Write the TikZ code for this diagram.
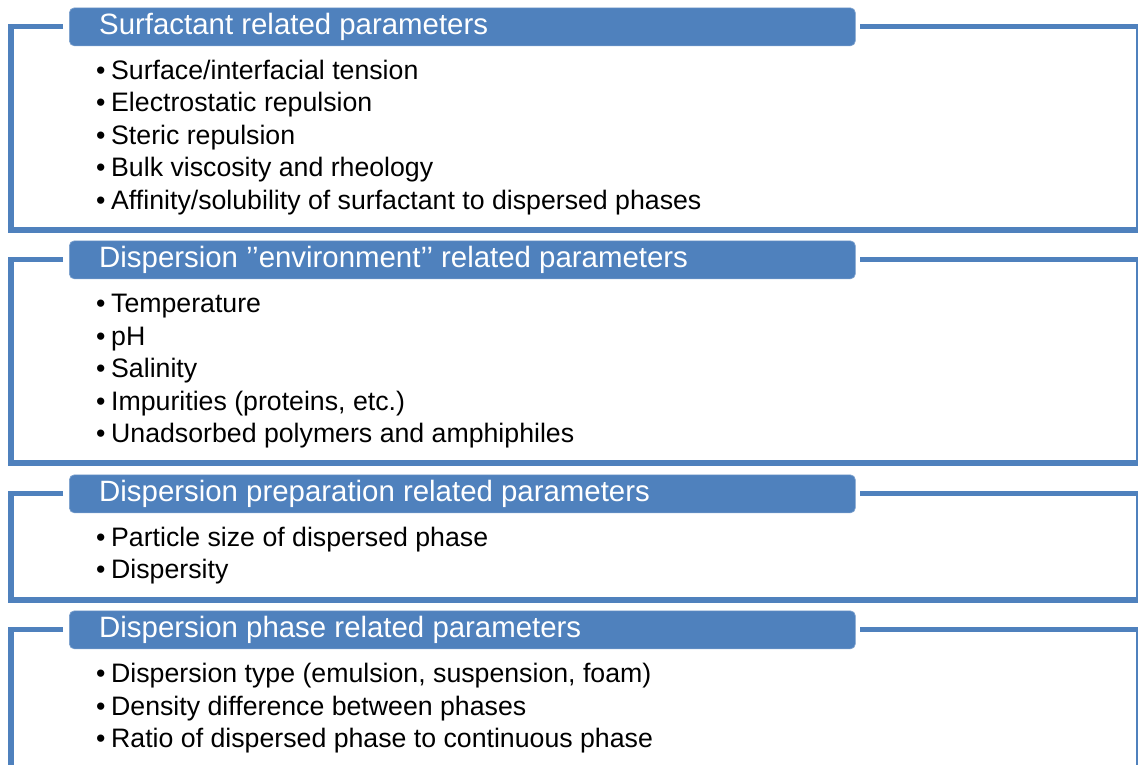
\documentclass[tikz,border=0pt]{standalone}
\usepackage{fontspec}
\setmainfont{Liberation Sans}
\definecolor{accent}{HTML}{4F81BD}
\begin{document}
\begin{tikzpicture}[x=1pt,y=-1pt,
 frame/.style={draw=accent,line width=5.5pt,line join=miter},
 bar/.style={fill=accent,draw=accent!75!white,line width=0.7pt,rounded corners=5pt,minimum width=786pt,minimum height=38pt,inner sep=0pt,anchor=north west},
 titletext/.style={text=white,font=\fontsize{29.4}{34}\selectfont,anchor=base west,inner sep=0pt},
 item/.style={font=\fontsize{26.7}{31}\selectfont,anchor=base west,inner sep=0pt}]
\useasboundingbox (0,0) rectangle (1138,764);
\newcommand{\bul}[1]{\makebox[15pt][l]{•}#1}
% Section 1
\draw[frame] (63,26.5) -- (11,26.5) -- (11,230) -- (1139,230) -- (1139,26.5) -- (860,26.5);
\node[bar] (bar1) at (69,7.5) {};
\node[titletext] (t1) at (99,34) {Surfactant related parameters};
\node[item] (i11) at (96,79) {\bul{Surface/interfacial tension}};
\node[item] (i12) at (96,111.5) {\bul{Electrostatic repulsion}};
\node[item] (i13) at (96,144) {\bul{Steric repulsion}};
\node[item] (i14) at (96,176.5) {\bul{Bulk viscosity and rheology}};
\node[item] (i15) at (96,209) {\bul{Affinity/solubility of surfactant to dispersed phases}};
% Section 2
\draw[frame] (63,259.5) -- (11,259.5) -- (11,463) -- (1139,463) -- (1139,259.5) -- (860,259.5);
\node[bar] (bar2) at (69,240.5) {};
\node[titletext] (t2) at (99,267) {Dispersion ’’environment’’ related parameters};
\node[item] (i21) at (96,312.5) {\bul{Temperature}};
\node[item] (i22) at (96,345) {\bul{pH}};
\node[item] (i23) at (96,377.5) {\bul{Salinity}};
\node[item] (i24) at (96,410) {\bul{Impurities (proteins, etc.)}};
\node[item] (i25) at (96,442.5) {\bul{Unadsorbed polymers and amphiphiles}};
% Section 3
\draw[frame] (63,493.5) -- (11,493.5) -- (11,600) -- (1139,600) -- (1139,493.5) -- (860,493.5);
\node[bar] (bar3) at (69,474.5) {};
\node[titletext] (t3) at (99,501) {Dispersion preparation related parameters};
\node[item] (i31) at (96,546) {\bul{Particle size of dispersed phase}};
\node[item] (i32) at (96,578.5) {\bul{Dispersity}};
% Section 4
\draw[frame] (63,629.5) -- (11,629.5) -- (11,800) -- (1139,800) -- (1139,629.5) -- (860,629.5);
\node[bar] (bar4) at (69,610.5) {};
\node[titletext] (t4) at (99,637) {Dispersion phase related parameters};
\node[item] (i41) at (96,682.5) {\bul{Dispersion type (emulsion, suspension, foam)}};
\node[item] (i42) at (96,715) {\bul{Density difference between phases}};
\node[item] (i43) at (96,747.5) {\bul{Ratio of dispersed phase to continuous phase}};
\end{tikzpicture}
\end{document}
